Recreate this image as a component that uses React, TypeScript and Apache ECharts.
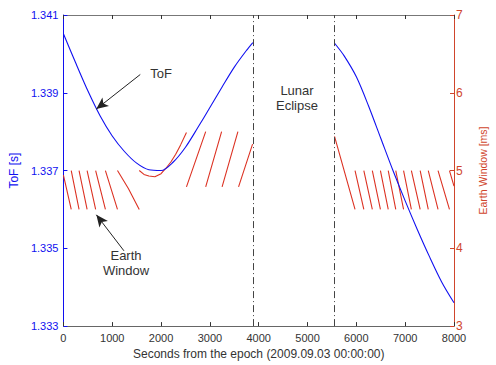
import React, { useEffect, useRef } from "react";
import * as echarts from "echarts";

// ToF [s] (left axis), before and after the lunar eclipse
const tofTimesA = [0, 250, 500, 750, 1000, 1250, 1500, 1750, 2000, 2250, 2500, 2750, 3000, 3250, 3500, 3750, 3880];
const tofValuesA = [1.34052, 1.33977, 1.33905, 1.33841, 1.33789, 1.33749, 1.33719, 1.33702, 1.337, 1.33722, 1.3376, 1.3381, 1.33862, 1.33915, 1.33966, 1.34009, 1.34029];
const tofTimesB = [5550, 5750, 6000, 6250, 6500, 6750, 7000, 7250, 7500, 7750, 8000];
const tofValuesB = [1.34028, 1.33995, 1.33941, 1.33866, 1.33783, 1.337, 1.33622, 1.33548, 1.33478, 1.33413, 1.3336];

// Earth window [ms] (right axis), segments of [t, value]
const ewDescA = [
  [[0, 4.94], [160, 4.5]],
  [[160, 5], [320, 4.5]],
  [[320, 5], [485, 4.5]],
  [[485, 5], [660, 4.5]],
  [[660, 5], [860, 4.5]],
  [[860, 5], [1107, 4.5]],
  [[1107, 5], [1330, 4.77], [1553, 4.5]],
];
const ewBowl = [
  [[1553, 5.0], [1650, 4.95], [1750, 4.93], [1873, 4.92], [2000, 4.96], [2100, 5.03], [2200, 5.11], [2300, 5.21], [2400, 5.33], [2520, 5.49]],
];
const ewAsc = [
  [[2520, 4.79], [2914, 5.5]],
  [[2914, 4.79], [3240, 5.5]],
  [[3250, 4.79], [3574, 5.5]],
  [[3587, 4.79], [3874, 5.34]],
];
const ewDescB = [
  [[5553, 5.44], [5973, 4.5]],
  [[5973, 5], [6153, 4.5]],
  [[6153, 5], [6327, 4.5]],
  [[6327, 5], [6493, 4.5]],
  [[6493, 5], [6653, 4.5]],
  [[6653, 5], [6807, 4.5]],
  [[6807, 5], [6967, 4.5]],
  [[6967, 5], [7127, 4.5]],
  [[7127, 5], [7307, 4.5]],
  [[7307, 5], [7473, 4.5]],
  [[7473, 5], [7673, 4.5]],
  [[7673, 5], [7907, 4.5]],
  [[7907, 5], [8000, 4.8]],
];

// Eclipse boundaries [s]
const eclipseStart = 3885;
const eclipseEnd = 5550;

// Annotation arrows: [tail, head] in data coordinates
const tofArrow = [[1574, 1.33947], [673, 1.33858]];
const ewArrow = [[1240, 3.968], [674, 4.431]];

const BLUE = "#1010f0";
const RED = "#dc3223";
const RED_AX = "#d0452c";
const GRAY = "#333333";
const FONT = "Liberation Sans, Arial, sans-serif";

function buildTof() {
  const d: any[] = [];
  tofTimesA.forEach((t, i) => d.push([t, tofValuesA[i]]));
  d.push([(eclipseStart + eclipseEnd) / 2, null]);
  tofTimesB.forEach((t, i) => d.push([t, tofValuesB[i]]));
  return d;
}

function buildEw() {
  const d: any[] = [];
  const all = [...ewDescA, ...ewBowl, ...ewAsc, ...ewDescB];
  all.forEach((seg) => {
    seg.forEach((p) => d.push([p[0], p[1]]));
    d.push([seg[seg.length - 1][0], null]);
  });
  return d;
}

export default function App() {
  const ref = useRef<HTMLDivElement>(null);
  useEffect(() => {
    const chart = echarts.init(ref.current!, null, { renderer: "svg" });
    const option: any = {
      animation: false,
      backgroundColor: "#ffffff",
      textStyle: { fontFamily: FONT },
      grid: { left: 63, right: 33, top: 15, bottom: 36 },
      xAxis: [
        {
          type: "value",
          position: "bottom",
          min: 0,
          max: 8000,
          interval: 1000,
          axisLine: { show: true, onZero: false, lineStyle: { color: "#666", width: 1 } },
          axisTick: { show: true, inside: true, length: 4, lineStyle: { color: GRAY } },
          axisLabel: { color: GRAY, fontSize: 11, margin: 6, fontFamily: FONT, formatter: (v: number) => String(v) },
          splitLine: { show: false },
          name: "Seconds from the epoch (2009.09.03 00:00:00)",
          nameLocation: "middle",
          nameGap: 20,
          nameTextStyle: { color: GRAY, fontSize: 12, fontFamily: FONT },
        },
        {
          type: "value",
          position: "top",
          min: 0,
          max: 8000,
          interval: 1000,
          axisLine: { show: true, onZero: false, lineStyle: { color: "#777", width: 1 } },
          axisTick: { show: true, inside: true, length: 4, lineStyle: { color: GRAY } },
          axisLabel: { show: false },
          splitLine: { show: false },
        },
      ],
      yAxis: [
        {
          type: "value",
          position: "left",
          min: 1.333,
          max: 1.341,
          interval: 0.002,
          axisLine: { show: true, onZero: false, lineStyle: { color: BLUE, width: 1 } },
          axisTick: { show: true, inside: true, length: 4, lineStyle: { color: BLUE } },
          axisLabel: {
            color: BLUE,
            fontSize: 11,
            margin: 5,
            fontFamily: FONT,
            formatter: (v: number) => v.toFixed(3),
          },
          splitLine: { show: false },
          name: "ToF [s]",
          nameLocation: "middle",
          nameRotate: 90,
          nameGap: 38,
          nameTextStyle: { color: BLUE, fontSize: 12, fontFamily: FONT },
        },
        {
          type: "value",
          position: "right",
          min: 3,
          max: 7,
          interval: 1,
          axisLine: { show: true, onZero: false, lineStyle: { color: RED_AX, width: 1 } },
          axisTick: { show: true, inside: true, length: 4, lineStyle: { color: RED_AX } },
          axisLabel: { color: RED_AX, fontSize: 12, margin: 2, fontFamily: FONT },
          splitLine: { show: false },
          name: "Earth Window [ms]",
          nameLocation: "middle",
          nameRotate: 90,
          nameGap: 23,
          nameTextStyle: { color: RED_AX, fontSize: 10.5, fontFamily: FONT },
        },
      ],
      series: [
        {
          type: "line",
          name: "ToF",
          xAxisIndex: 0,
          yAxisIndex: 0,
          data: buildTof(),
          symbol: "none",
          showSymbol: false,
          smooth: 0.3,
          connectNulls: false,
          lineStyle: { color: BLUE, width: 1.1 },
          z: 3,
          markLine: {
            silent: true,
            animation: false,
            symbol: ["none", "none"],
            label: { show: false },
            data: [
              { xAxis: eclipseStart, lineStyle: { color: "#444", width: 1, type: [7, 3, 1, 3] } },
              { xAxis: eclipseEnd, lineStyle: { color: "#444", width: 1, type: [7, 3, 1, 3] } },
              [
                { coord: tofArrow[0], symbol: "none" },
                { coord: tofArrow[1], symbol: "arrow", symbolSize: [8, 12] },
              ],
            ],
            lineStyle: { color: "#222", width: 1, type: "solid" },
            emphasis: { disabled: true },
          },
        },
        {
          type: "line",
          name: "Earth Window",
          xAxisIndex: 0,
          yAxisIndex: 1,
          data: buildEw(),
          symbol: "none",
          showSymbol: false,
          connectNulls: false,
          lineStyle: { color: RED, width: 1.1 },
          z: 2,
          markLine: {
            silent: true,
            animation: false,
            symbol: ["none", "none"],
            label: { show: false },
            lineStyle: { color: "#222", width: 1, type: "solid" },
            data: [
              [
                { coord: ewArrow[0], symbol: "none" },
                { coord: ewArrow[1], symbol: "arrow", symbolSize: [8, 12] },
              ],
            ],
            emphasis: { disabled: true },
          },
        },
      ],
      graphic: [
        { type: "text", x: 161, y: 73, style: { text: "ToF", fill: GRAY, font: "13px " + FONT, textAlign: "center", textVerticalAlign: "middle" } },
        { type: "text", x: 126, y: 263, style: { text: "Earth\nWindow", fill: GRAY, font: "13px " + FONT, textAlign: "center", textVerticalAlign: "middle", lineHeight: 15 } },
        { type: "text", x: 297, y: 98, style: { text: "Lunar\nEclipse", fill: GRAY, font: "13px " + FONT, textAlign: "center", textVerticalAlign: "middle", lineHeight: 15 } },
      ],
    };
    chart.setOption(option);
    return () => chart.dispose();
  }, []);
  return (
    <div
      ref={ref}
      style={{ position: "absolute", left: 0, top: 0, width: 496, height: 365, background: "#fff" }}
    />
  );
}
